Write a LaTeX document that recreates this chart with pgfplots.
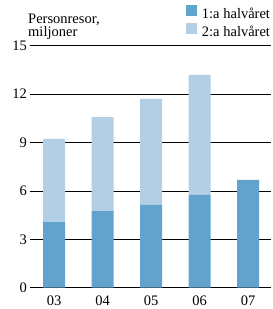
\documentclass[border=0pt]{standalone}
\usepackage{pgfplots}
\pgfplotsset{compat=1.18}
\usepackage{fontspec}
\setmainfont{Liberation Serif}
\definecolor{darkb}{HTML}{62A3CD}
\definecolor{lightb}{HTML}{B3CFE6}
\begin{document}
\fontsize{14.5bp}{13bp}\selectfont
\begin{tikzpicture}
\useasboundingbox (0,0) rectangle (273bp,309bp);
\begin{axis}[
  at={(30bp,21.3bp)}, anchor=south west,
  scale only axis, width=241bp, height=242bp,
  ybar stacked, bar width=22bp,
  xmin=-0.5, xmax=4.47, ymin=0, ymax=15,
  xtick={0,1,2,3,4}, xticklabels={03,04,05,06,07},
  ytick={0,3,6,9,12,15},
  major tick length=0pt,
  axis line style={draw=none},
  ymajorgrids, grid style={black, line width=0.7bp},
  yticklabel style={inner sep=0pt, xshift=-3bp},
  xticklabel style={inner sep=0pt, yshift=-8bp, text depth=0pt},
  /pgf/number format/assume math mode=true,
  tick label style={font=\fontsize{14.5bp}{13bp}\selectfont},
  legend style={at={(rel axis cs:1,1)}, anchor=south east, yshift=5.7bp, xshift=-1bp,
    draw=none, fill=none, inner sep=0pt, outer sep=0pt, row sep=2bp, column sep=0pt,
    font=\fontsize{14.5bp}{13bp}\selectfont,
    nodes={inner sep=0pt, outer sep=0pt, text height=10bp, text depth=3bp},
    cells={anchor=west}},
  legend image code/.code={\fill[#1] (0bp,-1bp) rectangle (11bp,10bp); \path (0bp,0bp) -- (16bp,0bp);},
  legend cell align=left,
]
\addplot[fill=darkb, draw=none] coordinates {(0,4.07) (1,4.75) (2,5.13) (3,5.75) (4,6.68)};
\addplot[fill=lightb, draw=none] coordinates {(0,5.15) (1,5.83) (2,6.57) (3,7.44) (4,0)};
\legend{1:a halvåret, 2:a halvåret}
\draw[black, line width=1.3bp] (rel axis cs:0,0) -- (rel axis cs:1,0);
\draw[black, line width=1.3bp] (rel axis cs:0,1) -- (rel axis cs:1,1);
\end{axis}
\node[anchor=base west, inner sep=0pt, font=\fontsize{14.5bp}{13bp}\selectfont] at (28bp,285bp) {Personresor,};
\node[anchor=base west, inner sep=0pt, font=\fontsize{14.5bp}{13bp}\selectfont] at (28bp,272bp) {miljoner};
\end{tikzpicture}
\end{document}
